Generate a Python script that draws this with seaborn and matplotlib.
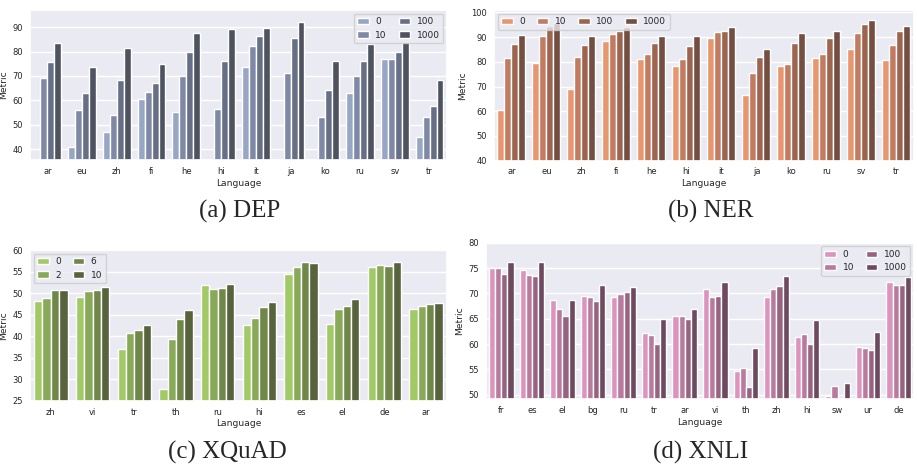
import numpy as np
import pandas as pd
import seaborn as sns
import matplotlib.pyplot as plt

sns.set_theme(style="darkgrid", font_scale=0.55)

nan = np.nan

# (a) DEP
dep_langs = ['ar', 'eu', 'zh', 'fi', 'he', 'hi', 'it', 'ja', 'ko', 'ru', 'sv', 'tr']
dep_hue = ['0', '10', '100', '1000']
dep_0 = [nan, 40.8, 47.1, 60.4, 55.0, nan, 73.8, nan, nan, 62.9, 76.8, 45.0]
dep_10 = [69.0, 56.0, 54.0, 63.3, 69.8, 56.3, 82.1, 71.1, 53.1, 69.8, 76.8, 53.1]
dep_100 = [75.8, 62.8, 68.2, 67.2, 79.6, 76.0, 86.5, 85.6, 64.3, 76.3, 80.0, 57.6]
dep_1000 = [83.3, 73.8, 81.4, 74.9, 87.4, 89.3, 89.7, 92.2, 76.0, 83.0, 83.8, 68.2]

# (b) NER
ner_langs = ['ar', 'eu', 'zh', 'fi', 'he', 'hi', 'it', 'ja', 'ko', 'ru', 'sv', 'tr']
ner_hue = ['0', '10', '100', '1000']
ner_0 = [60.6, 79.4, 68.8, 88.4, 81.1, 78.4, 89.6, 66.5, 78.5, 81.4, 85.3, 80.6]
ner_10 = [81.5, 90.3, 82.1, 91.1, 83.0, 81.3, 91.9, 75.5, 79.3, 83.2, 91.8, 86.7]
ner_100 = [87.2, 94.7, 87.0, 92.6, 87.6, 86.3, 92.6, 81.8, 87.8, 89.8, 95.3, 92.3]
ner_1000 = [90.8, 95.6, 90.6, 94.3, 90.6, 90.6, 94.3, 85.4, 91.8, 92.5, 97.0, 94.5]

# (c) XQuAD
xq_langs = ['zh', 'vi', 'tr', 'th', 'ru', 'hi', 'es', 'el', 'de', 'ar']
xq_hue = ['0', '2', '6', '10']
xq_0 = [48.1, 49.0, 36.9, 27.8, 51.8, 42.5, 54.4, 42.8, 56.1, 46.4]
xq_2 = [48.9, 50.5, 40.8, 39.4, 51.0, 44.1, 56.1, 46.4, 56.6, 46.9]
xq_6 = [50.8, 50.8, 41.5, 44.0, 51.2, 46.7, 57.1, 47.1, 56.3, 47.4]
xq_10 = [50.8, 51.5, 42.5, 46.0, 52.0, 48.0, 57.0, 48.6, 57.2, 47.8]

# (d) XNLI
xn_langs = ['fr', 'es', 'el', 'bg', 'ru', 'tr', 'ar', 'vi', 'th', 'zh', 'hi', 'sw', 'ur', 'de']
xn_hue = ['0', '10', '100', '1000']
xn_0 = [75.0, 74.7, 68.7, 69.5, 69.3, 62.1, 65.5, 70.8, 54.7, 69.2, 61.4, 49.7, 59.4, 72.2]
xn_10 = [75.0, 73.6, 67.0, 69.3, 69.8, 61.8, 65.5, 69.2, 55.3, 70.8, 61.9, 51.7, 59.3, 71.6]
xn_100 = [73.8, 73.4, 65.6, 68.4, 70.2, 60.1, 64.9, 69.5, 51.6, 71.4, 60.0, nan, 58.8, 71.6]
xn_1000 = [76.1, 76.1, 68.7, 71.7, 71.3, 65.0, 67.0, 72.3, 59.2, 73.4, 64.7, 52.4, 62.4, 73.2]

dep_colors = ['#97a6c5', '#7f89a6', '#676f86', '#4e535f']
ner_colors = ['#e8966f', '#c27b61', '#9d6450', '#744e41']
xq_colors = ['#a1c965', '#88a957', '#6f8849', '#57633c']
xn_colors = ['#dc94bf', '#b87b9e', '#966481', '#6d4a5f']


def long_form(langs, hue, series):
    rows = []
    for h, vals in zip(hue, series):
        for lang, v in zip(langs, vals):
            rows.append({'Language': lang, 'Shots': h, 'Metric': v})
    return pd.DataFrame(rows)


def draw(ax, langs, hue, series, colors, ylim, legend_loc, ncol):
    df = long_form(langs, hue, series)
    sns.barplot(data=df, x='Language', y='Metric', hue='Shots',
                order=langs, hue_order=hue, palette=colors,
                saturation=1, ax=ax)
    ax.set_ylim(*ylim)
    ax.tick_params(axis='both', length=0, pad=5)
    ax.yaxis.labelpad = 3
    ax.xaxis.labelpad = 2
    ax.legend(loc=legend_loc, ncol=ncol, title=None, fontsize=6.5,
              columnspacing=1.3, handlelength=1.3, handletextpad=0.7,
              borderaxespad=0.4)


fig = plt.figure(figsize=(9.17, 4.68), dpi=100)

ax_a = fig.add_axes([0.0327, 0.658, 0.4547, 0.3205])
ax_b = fig.add_axes([0.5387, 0.657, 0.458, 0.3216])
ax_c = fig.add_axes([0.0327, 0.1438, 0.4547, 0.322])
ax_d = fig.add_axes([0.530, 0.1474, 0.4667, 0.334])

draw(ax_a, dep_langs, dep_hue, [dep_0, dep_10, dep_100, dep_1000],
     dep_colors, (35.5, 97), 'upper right', 2)
draw(ax_b, ner_langs, ner_hue, [ner_0, ner_10, ner_100, ner_1000],
     ner_colors, (40, 101), 'upper left', 4)
draw(ax_c, xq_langs, xq_hue, [xq_0, xq_2, xq_6, xq_10],
     xq_colors, (25, 60), 'upper left', 2)
draw(ax_d, xn_langs, xn_hue, [xn_0, xn_10, xn_100, xn_1000],
     xn_colors, (49.15, 80), 'upper right', 2)

captions = [("(a) DEP", 240, 211), ("(b) NER", 711, 211),
            ("(c) XQuAD", 227, 452), ("(d) XNLI", 701, 452)]
for text, px, py in captions:
    fig.text(px / 917, 1 - py / 468, text, ha='center', va='center',
             fontsize=18, family='Liberation Serif')

fig.savefig('out.png', dpi=100)
